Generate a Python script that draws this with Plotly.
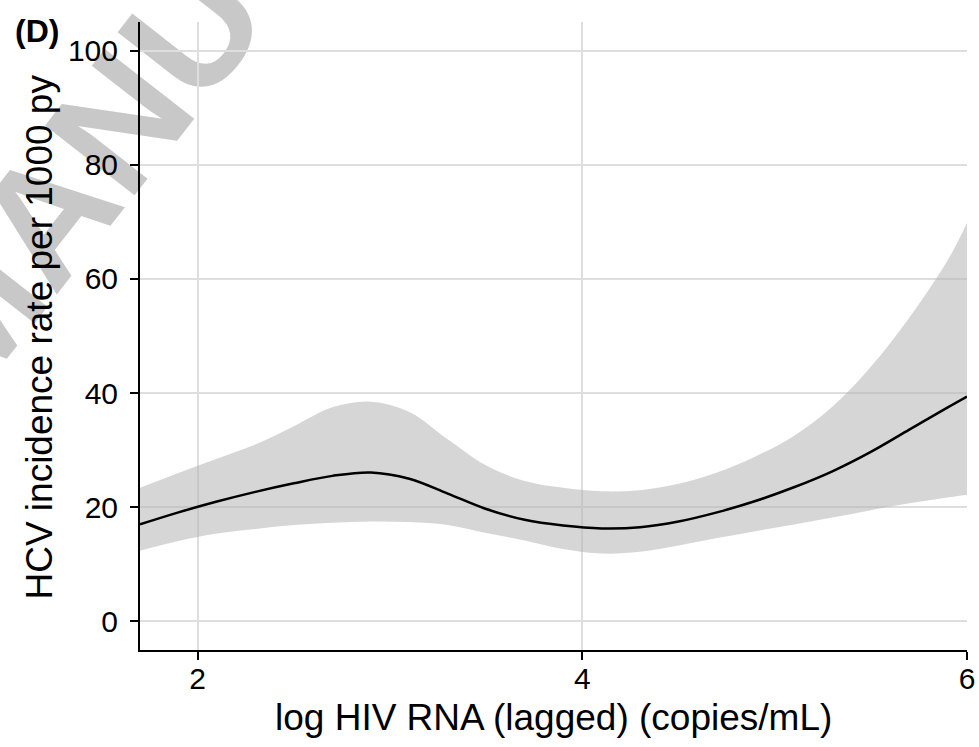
import plotly.graph_objects as go

# Data
x_vals = [1.7, 1.9, 2.1, 2.3, 2.5, 2.7, 2.9, 3.1, 3.3, 3.5, 3.7, 3.9,
          4.1, 4.3, 4.5, 4.7, 4.9, 5.1, 5.3, 5.5, 5.7, 5.9, 6.0]
fit_vals = [17.0, 19.1, 21.0, 22.7, 24.2, 25.5, 26.1, 25.0, 22.4, 19.7, 17.8, 16.8,
            16.3, 16.5, 17.5, 19.1, 21.1, 23.5, 26.3, 29.7, 33.6, 37.5, 39.4]
upper_vals = [23.4, 26.0, 28.5, 31.0, 34.2, 37.5, 38.5, 36.7, 31.9, 27.3, 24.6, 23.4,
              22.8, 23.0, 24.1, 26.1, 28.9, 32.5, 37.6, 44.6, 53.2, 63.3, 69.8]
lower_vals = [12.4, 14.1, 15.4, 16.2, 16.9, 17.3, 17.5, 17.4, 16.9, 15.5, 14.2, 12.7,
              11.9, 12.2, 13.3, 14.6, 15.8, 17.0, 18.2, 19.5, 20.7, 21.7, 22.2]

x_ticks = [2, 4, 6]
y_ticks = [0, 20, 40, 60, 80, 100]

x_title = "log HIV RNA (lagged) (copies/mL)"
y_title = "HCV incidence rate per 1000 py"
panel_label = "(D)"
watermark = "MANUSCRIPT"

FONT = "Liberation Sans, Arial, Helvetica, sans-serif"

fig = go.Figure()
fig.add_trace(go.Scatter(x=x_vals, y=upper_vals, mode="lines", line=dict(width=0, shape="spline"),
                         hoverinfo="skip", showlegend=False))
fig.add_trace(go.Scatter(x=x_vals, y=lower_vals, mode="lines", line=dict(width=0, shape="spline"),
                         fill="tonexty", fillcolor="rgba(180,180,180,0.55)",
                         hoverinfo="skip", showlegend=False))
fig.add_trace(go.Scatter(x=x_vals, y=fit_vals, mode="lines",
                         line=dict(color="black", width=2.5, shape="spline"),
                         showlegend=False))

# Watermark (faint rotated text behind the plot)
wx, wy = 0.134, 1.150
fig.add_shape(type="rect", xref="paper", yref="paper",
              x0=wx - 0.001, x1=wx + 0.001, y0=wy - 0.001, y1=wy + 0.001,
              line=dict(width=0), fillcolor="rgba(0,0,0,0)", layer="below",
              label=dict(text="<b>" + watermark + "</b>", textangle=-52, textposition="middle center",
                         font=dict(family=FONT, size=165, color="#c8c8c8")))

fig.add_annotation(text="<b>" + panel_label + "</b>", xref="paper", yref="paper",
                   x=-0.124, y=0.985, xanchor="center", yanchor="middle",
                   showarrow=False, font=dict(family=FONT, size=32, color="black"))
fig.add_annotation(text=x_title, xref="paper", yref="paper",
                   x=0.5, y=-0.108, xanchor="center", yanchor="middle",
                   showarrow=False, font=dict(family=FONT, size=37, color="black"))
fig.add_annotation(text=y_title, xref="paper", yref="paper", textangle=-90,
                   x=-0.121, y=0.499, xanchor="center", yanchor="middle",
                   showarrow=False, font=dict(family=FONT, size=37, color="black"))

axis_common = dict(
    showline=True, linecolor="black", linewidth=2,
    ticks="outside", ticklen=8, tickwidth=2, tickcolor="black",
    showgrid=True, gridcolor="#dedede", gridwidth=2, zeroline=False,
    tickfont=dict(size=30, color="black"), automargin=False,
)

fig.update_layout(
    width=979, height=747,
    margin=dict(l=140, r=12, t=22, b=97),
    paper_bgcolor="white",
    plot_bgcolor="rgba(0,0,0,0)",
    font=dict(family=FONT, color="black"),
    xaxis=dict(range=[1.7, 6.0], tickvals=x_ticks, ticktext=[str(v) for v in x_ticks],
               ticklabelstandoff=-7, **axis_common),
    yaxis=dict(range=[-5, 105], tickvals=y_ticks, ticktext=[str(v) for v in y_ticks],
               ticklabelstandoff=6, **axis_common),
)

fig.write_html("out.html", config={"displayModeBar": False},
               post_script="document.body.style.margin='0px';document.body.style.padding='0px';")
